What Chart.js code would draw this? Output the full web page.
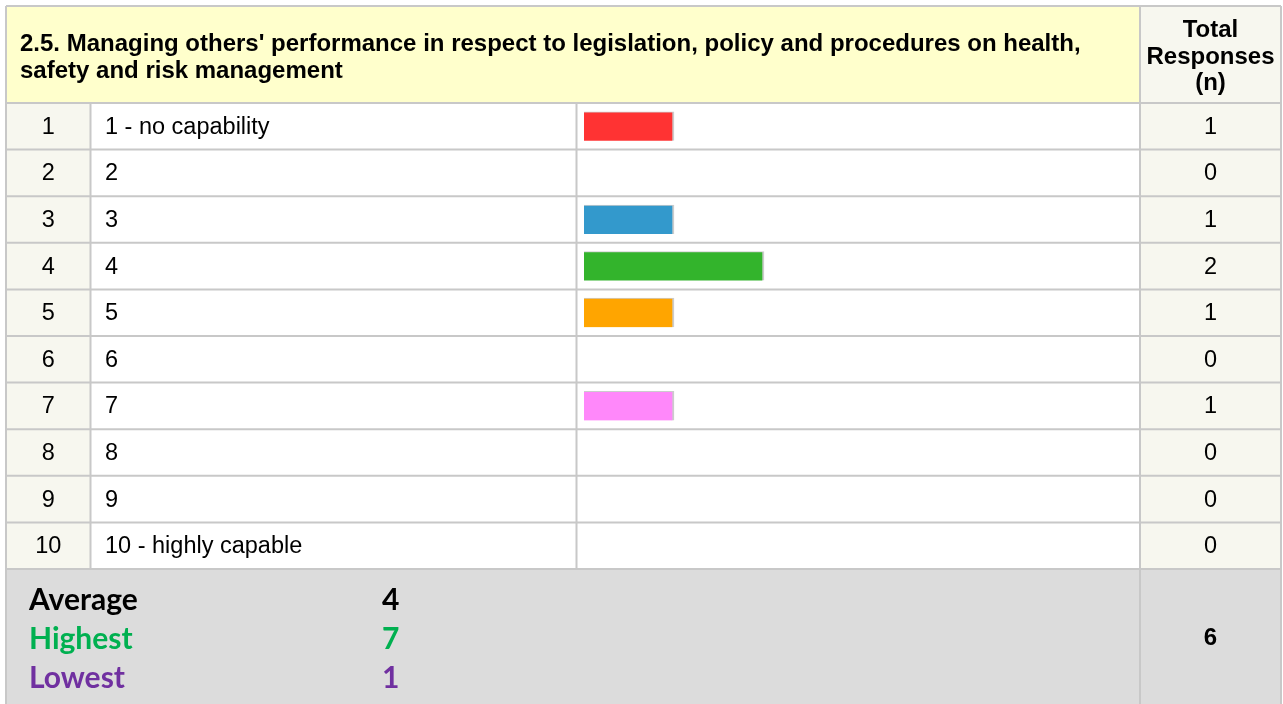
<!DOCTYPE html>
<html>
<head>
<meta charset="utf-8">
<script src="https://cdn.jsdelivr.net/npm/chart.js@4.4.0/dist/chart.umd.min.js"></script>
<style>
  html, body { margin: 0; padding: 0; background: #fff; overflow: hidden; }
</style>
</head>
<body>
<canvas id="ratingChart"></canvas>
<script>
// question title (two lines as shown)
const titleLines = [
  "2.5. Managing others' performance in respect to legislation, policy and procedures on health,",
  "safety and risk management"
];
const totalHeader = ['Total', 'Responses', '(n)'];

// rating rows
const rowNumbers = ['1', '2', '3', '4', '5', '6', '7', '8', '9', '10'];
const categories = ['1 - no capability', '2', '3', '4', '5', '6', '7', '8', '9', '10 - highly capable'];
const responses = [1, 0, 1, 2, 1, 0, 1, 0, 0, 0];

// summary
const summaryLabels = ['Average', 'Highest', 'Lowest'];
const summaryValues = [4, 7, 1];
const totalResponses = 6;

// styles
const barColors = ['#ff3333', '#9966cc', '#3399cc', '#33b42c', '#ffa500', '#66cccc', '#ff88fa', '#999999', '#cc6633', '#336699'];
const summaryColors = ['#000000', '#00b050', '#7030a0'];

const W = 1283, H = 704;
const colX = [6, 90.5, 576.5, 1140, 1281];
const gridColor = '#c8c8c8';

const tablePlugin = {
  id: 'surveyTable',
  beforeDraw(chart) {
    const ctx = chart.ctx;
    const area = chart.chartArea;
    const y = chart.scales.y;
    const band = (area.bottom - area.top) / categories.length;
    ctx.save();

    // backgrounds
    ctx.fillStyle = '#ffffcc';
    ctx.fillRect(colX[0], 6, colX[3] - colX[0], area.top - 6);
    ctx.fillStyle = '#f7f7ef';
    ctx.fillRect(colX[3], 6, colX[4] - colX[3], area.top - 6);
    ctx.fillRect(colX[0], area.top, colX[1] - colX[0], area.bottom - area.top);
    ctx.fillRect(colX[3], area.top, colX[4] - colX[3], area.bottom - area.top);
    ctx.fillStyle = '#ffffff';
    ctx.fillRect(colX[1], area.top, colX[3] - colX[1], area.bottom - area.top);
    ctx.fillStyle = '#dcdcdc';
    ctx.fillRect(colX[0], area.bottom, colX[4] - colX[0], H - area.bottom);

    // grid lines
    ctx.strokeStyle = gridColor;
    ctx.lineWidth = 2;
    const line = (x1, y1, x2, y2) => {
      ctx.beginPath(); ctx.moveTo(x1, y1); ctx.lineTo(x2, y2); ctx.stroke();
    };
    line(colX[0], 6, colX[4], 6);
    line(colX[0], 6, colX[0], H);
    line(colX[4], 6, colX[4], H);
    line(colX[3], 6, colX[3], H);
    line(colX[0], area.top, colX[4], area.top);
    categories.forEach((c, i) => {
      const bottom = y.getPixelForValue(i) + band / 2;
      line(colX[0], bottom, colX[4], bottom);
    });
    line(colX[1], area.top, colX[1], area.bottom);
    line(colX[2], area.top, colX[2], area.bottom);

    // header text
    ctx.fillStyle = '#000';
    ctx.textBaseline = 'alphabetic';
    ctx.font = 'bold 24px "Liberation Sans", Arial, sans-serif';
    ctx.textAlign = 'left';
    titleLines.forEach((t, i) => ctx.fillText(t, 20, 51 + i * 27));
    ctx.textAlign = 'center';
    const totCx = (colX[3] + colX[4]) / 2;
    totalHeader.forEach((t, i) => ctx.fillText(t, totCx, 37 + i * 26.5));

    // row text
    ctx.font = '23.5px "Liberation Sans", Arial, sans-serif';
    ctx.textBaseline = 'middle';
    categories.forEach((c, i) => {
      const cy = y.getPixelForValue(i) + 1;
      ctx.textAlign = 'center';
      ctx.fillText(rowNumbers[i], (colX[0] + colX[1]) / 2, cy);
      ctx.fillText(String(responses[i]), totCx, cy);
      ctx.textAlign = 'left';
      ctx.fillText(c, 105, cy);
    });

    // summary
    ctx.textBaseline = 'alphabetic';
    ctx.font = 'bold 30px Lato, "Open Sans", sans-serif';
    summaryLabels.forEach((s, i) => {
      const by = area.bottom + 41 + i * 39;
      ctx.fillStyle = summaryColors[i];
      ctx.textAlign = 'left';
      ctx.fillText(s, 29, by);
      ctx.fillText(String(summaryValues[i]), 382, by);
    });
    ctx.fillStyle = '#000';
    ctx.textAlign = 'center';
    ctx.textBaseline = 'middle';
    ctx.font = 'bold 24px "Liberation Sans", Arial, sans-serif';
    ctx.fillText(String(totalResponses), totCx, area.bottom + 69);

    ctx.restore();
  }
};

const canvas = document.getElementById('ratingChart');
canvas.width = W; canvas.height = H;
canvas.style.width = W + 'px'; canvas.style.height = H + 'px';

new Chart(canvas.getContext('2d'), {
  type: 'bar',
  data: {
    labels: categories,
    datasets: [{
      data: responses,
      backgroundColor: ctx => ctx.raw > 0 ? barColors[ctx.dataIndex] : 'rgba(0,0,0,0)',
      borderColor: ctx => ctx.raw > 0 ? '#cccccc' : 'rgba(0,0,0,0)',
      borderWidth: ctx => ctx.raw > 0 ? { top: 1, right: 2, bottom: 0, left: 0 } : 0,
      borderSkipped: false,
      barThickness: 29
    }]
  },
  options: {
    indexAxis: 'y',
    responsive: false,
    animation: false,
    events: [],
    layout: { padding: { left: 584, right: 159, top: 103, bottom: 135 } },
    scales: {
      x: { display: false, min: 0, max: 6 },
      y: { display: false, grid: { display: false } }
    },
    plugins: { legend: { display: false }, tooltip: { enabled: false } }
  },
  plugins: [tablePlugin]
});
</script>
</body>
</html>
